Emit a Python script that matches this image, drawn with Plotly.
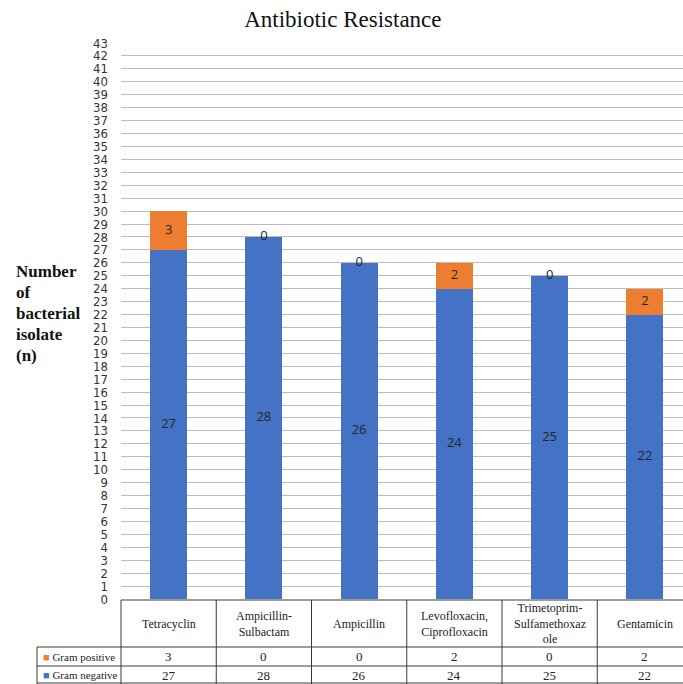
import plotly.graph_objects as go

# ---------------- data ----------------
categories = ["Tetracyclin", "Ampicillin-Sulbactam", "Ampicillin",
              "Levofloxacin, Ciprofloxacin", "Trimetoprim-Sulfamethoxazole", "Gentamicin"]
header_labels = ["Tetracyclin", "Ampicillin-<br>Sulbactam", "Ampicillin",
                 "Levofloxacin,<br>Ciprofloxacin", "Trimetoprim-<br>Sulfamethoxaz<br>ole", "Gentamicin"]
gram_negative = [27, 28, 26, 24, 25, 22]
gram_positive = [3, 0, 0, 2, 0, 2]
y_ticks = list(range(0, 44))
y_title_lines = ["Number", "of", "bacterial", "isolate", "(n)"]

BLUE = "#4472C4"
ORANGE = "#ED7D31"

# ---------------- layout helpers ----------------
W, H = 683, 684
L, R, T, B = 121, 683, 43, 599


def px_x(p):
    return (p - L) / (R - L)


def px_y(p):
    return (B - p) / (B - T)


fig = go.Figure()

fig.add_trace(go.Bar(x=categories, y=gram_negative, name="Gram negative",
                     marker=dict(color=BLUE, line=dict(width=0)), width=0.39))
fig.add_trace(go.Bar(x=categories, y=gram_positive, name="Gram positive",
                     marker=dict(color=ORANGE, line=dict(width=0)), width=0.39))

# value labels
neg_label_y = [v / 2 for v in gram_negative]
pos_label_y = [n + p / 2 for n, p in zip(gram_negative, gram_positive)]
label_font = dict(family="Open Sans, DejaVu Sans, sans-serif", size=13, color="#262626")
fig.add_trace(go.Scatter(x=categories, y=neg_label_y, mode="text",
                         text=[str(v) for v in gram_negative], textfont=label_font,
                         showlegend=False, hoverinfo="skip", cliponaxis=False))
fig.add_trace(go.Scatter(x=categories, y=pos_label_y, mode="text",
                         text=[str(v) for v in gram_positive], textfont=label_font,
                         showlegend=False, hoverinfo="skip", cliponaxis=False))

serif = "Liberation Serif, Times New Roman, serif"

fig.update_layout(
    width=W, height=H,
    margin=dict(l=L, r=W - R, t=T, b=H - B),
    barmode="stack",
    showlegend=False,
    paper_bgcolor="white",
    plot_bgcolor="white",
    title=dict(text="Antibiotic Resistance", x=0.502, xref="container", xanchor="center",
               y=1 - 19 / H, yref="container", yanchor="middle",
               font=dict(family=serif, size=23, color="#111")),
    xaxis=dict(range=[-0.5, 5.4], showticklabels=False, showgrid=False, zeroline=False,
               showline=False, ticks=""),
    yaxis=dict(range=[0, 43], tickmode="array", tickvals=y_ticks,
               ticktext=[str(t) for t in y_ticks], showgrid=True, gridcolor="#BDBDBD",
               gridwidth=1, zeroline=False, showline=False, ticks="",
               ticklabelstandoff=12,
               tickfont=dict(family="DejaVu Sans Condensed, Liberation Sans Narrow, sans-serif",
                             size=13, color="#333")),
)

# y-axis title (one line per annotation for tight line spacing)
for k, word in enumerate(y_title_lines):
    fig.add_annotation(text=f"<b>{word}</b>", xref="paper", yref="paper",
                       x=px_x(14), y=px_y(271 + 21 * k), xanchor="left", yanchor="middle",
                       showarrow=False, font=dict(family=serif, size=17, color="#111"))

# ---------------- data table ----------------
line_style = dict(color="#3a3a3a", width=1)
table_top, header_bottom, row_mid, table_bottom = 600, 647, 666, 684
leg_left = 37

fig.add_shape(type="line", xref="paper", yref="paper", x0=px_x(L), x1=1,
              y0=px_y(table_top), y1=px_y(table_top), line=line_style)
for yy in (header_bottom, row_mid, table_bottom - 1):
    fig.add_shape(type="line", xref="paper", yref="paper", x0=px_x(leg_left), x1=1,
                  y0=px_y(yy), y1=px_y(yy), line=line_style)
fig.add_shape(type="line", xref="paper", yref="paper", x0=px_x(leg_left), x1=px_x(leg_left),
              y0=px_y(header_bottom), y1=px_y(table_bottom), line=line_style)
fig.add_shape(type="line", xref="paper", yref="paper", x0=px_x(L), x1=px_x(L),
              y0=px_y(table_top), y1=px_y(table_bottom), line=line_style)
for i in range(len(categories) - 1):
    fig.add_shape(type="line", xref="x", yref="paper", x0=i + 0.5, x1=i + 0.5,
                  y0=px_y(table_top), y1=px_y(table_bottom), line=line_style)

for cat, lab, p, n in zip(categories, header_labels, gram_positive, gram_negative):
    fig.add_annotation(x=cat, xref="x", yref="paper", y=px_y((table_top + header_bottom) / 2),
                       text=lab, showarrow=False, align="center", yanchor="middle",
                       font=dict(family=serif, size=12, color="#222"))
    fig.add_annotation(x=cat, xref="x", yref="paper", y=px_y((header_bottom + row_mid) / 2),
                       text=str(p), showarrow=False, yanchor="middle",
                       font=dict(family=serif, size=13, color="#222"))
    fig.add_annotation(x=cat, xref="x", yref="paper", y=px_y((row_mid + table_bottom) / 2),
                       text=str(n), showarrow=False, yanchor="middle",
                       font=dict(family=serif, size=13, color="#222"))

fig.add_annotation(xref="paper", yref="paper", x=px_x(41), y=px_y((header_bottom + row_mid) / 2),
                   xanchor="left", yanchor="middle", showarrow=False,
                   text=f"<span style='color:{ORANGE}'>■</span> Gram positive",
                   font=dict(family=serif, size=11, color="#222"))
fig.add_annotation(xref="paper", yref="paper", x=px_x(41), y=px_y((row_mid + table_bottom) / 2),
                   xanchor="left", yanchor="middle", showarrow=False,
                   text=f"<span style='color:{BLUE}'>■</span> Gram negative",
                   font=dict(family=serif, size=11, color="#222"))

fig.write_html("out.html", config={"displayModeBar": False},
               post_script="document.body.style.margin='0';document.body.style.overflow='hidden';")
